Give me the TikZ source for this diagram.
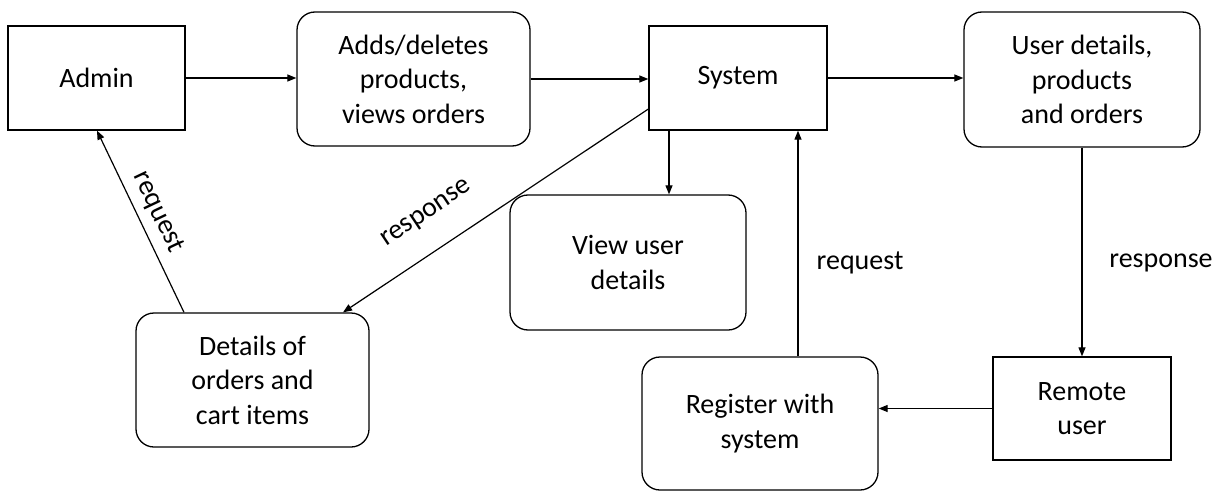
\documentclass[tikz,border=0pt]{standalone}
\usepackage{fontspec}
\setmainfont{Carlito}
\usetikzlibrary{arrows.meta}
\begin{document}
\begin{tikzpicture}[x=1pt,y=-1pt,
  txt/.style={font=\fontsize{28}{34.5}\selectfont},
  box/.style={txt, draw=black, line width=1.3pt, align=center, inner sep=0pt},
  rbox/.style={box, rounded corners=18pt},
  lbl/.style={txt, inner sep=0pt},
  conn/.style={draw=black, line width=1.2pt, -{Triangle[length=9pt,width=7pt]}}]
\useasboundingbox (0,0) rectangle (1225,492);
% nodes
\node[box, minimum width=177pt, minimum height=104pt] (admin) at (96.5,78) {Admin};
\node[rbox, minimum width=233pt, minimum height=134pt] (adds) at (413.5,79) {Adds/deletes\\products,\\views orders};
\node[box, minimum width=178pt, minimum height=104pt] (sys) at (738,78) {System};
\node[rbox, minimum width=236pt, minimum height=135pt] (ud) at (1082,79.5) {User details,\\products\\and orders};
\node[rbox, minimum width=236pt, minimum height=135pt] (view) at (628,262.5) {View user\\details};
\node[rbox, minimum width=233pt, minimum height=134pt] (det) at (252.5,380) {Details of\\orders and\\cart items};
\node[rbox, minimum width=236pt, minimum height=133pt] (reg) at (760,423.5) {Register with\\system};
\node[box, minimum width=178pt, minimum height=103pt] (remote) at (1082,408.5) {Remote\\user};
% helper coordinates
\coordinate (c1) at (669,0);
\coordinate (c2) at (798,0);
\coordinate (c3) at (0,109);
\coordinate (c4) at (343,0);
\coordinate (c5) at (184,0);
\coordinate (c6) at (97,0);
% connectors
\draw[conn] (admin.east) -- (admin.east -| adds.west);
\draw[conn] (adds.east) -- (adds.east -| sys.west);
\draw[conn] (sys.east) -- (sys.east -| ud.west);
\draw[conn] (sys.south -| c1) -- (view.north -| c1);
\draw[conn] (reg.north -| c2) -- (sys.south -| c2);
\draw[conn] (ud.south) -- (remote.north);
\draw[conn] (remote.west) -- (remote.west -| reg.east);
\draw[conn] (sys.west |- c3) -- (det.north -| c4);
\draw[conn] (det.north -| c5) -- (admin.south -| c6);
% labels
\node[lbl] (l1) at (860,263) {request};
\node[lbl] (l2) at (1161,263) {response};
\node[lbl, rotate=33.7] (l3) at (427,214) {response};
\node[lbl, rotate=-64.6] (l4) at (158,212) {request};
\end{tikzpicture}
\end{document}
